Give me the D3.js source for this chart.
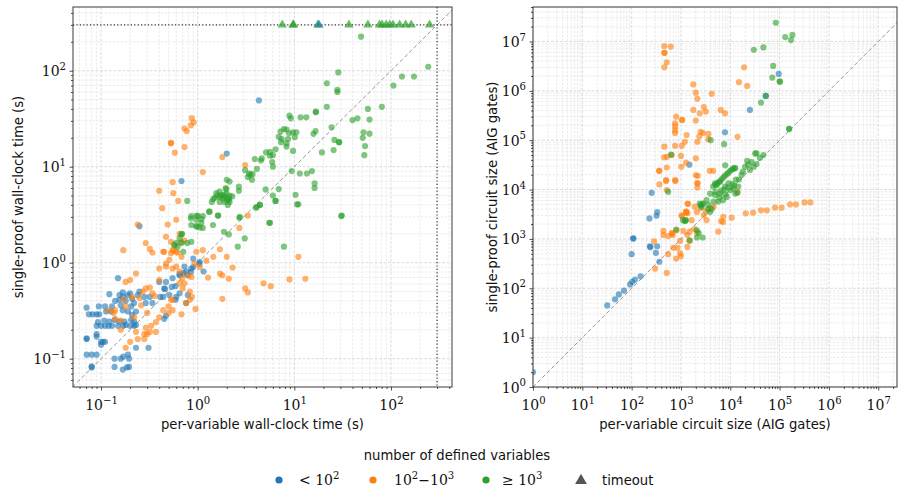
<!DOCTYPE html>
<html><head><meta charset="utf-8">
<script src="https://cdn.jsdelivr.net/npm/d3@7"></script>
<style>body{margin:0;background:#fff}</style>
</head><body>
<svg id="c" width="904" height="492"></svg>
<script>
// ---------- DATA ----------
const timeoutSeconds = 300;
const legendTitle = "number of defined variables";
const categories = ["< 10^2", "10^2-10^3", ">= 10^3"];
const colors = ["#1f77b4", "#ff7f0e", "#2ca02c"];

// Left panel: [per-variable time, single-proof time] in seconds
const leftBlue = [[0.25,2.4],[0.071,0.34],[0.071,0.16],[0.071,0.11],[0.08,0.11],[0.09,0.11],[0.08,0.081],[0.1,0.15],[0.105,0.15],[0.11,0.15],[0.09,0.18],[0.09,0.17],
[0.09,0.22],[0.1,0.22],[0.11,0.22],[0.12,0.22],[0.13,0.22],[0.15,0.22],[0.17,0.22],[0.18,0.225],[0.2,0.22],[0.22,0.22],[0.23,0.225],
[0.093,0.24],[0.108,0.25],[0.122,0.244],[0.138,0.253],[0.155,0.244],[0.175,0.244],[0.205,0.253],[0.22,0.244],
[0.075,0.29],[0.082,0.29],[0.09,0.29],[0.096,0.29],[0.21,0.286],
[0.095,0.35],[0.11,0.35],[0.113,0.31],[0.127,0.31],[0.168,0.32],[0.19,0.31],[0.23,0.31],[0.205,0.35],[0.22,0.38],[0.18,0.4],[0.155,0.41],[0.155,0.46],[0.168,0.49],[0.19,0.46],[0.122,0.47],[0.15,0.69],[0.28,0.44],[0.32,0.44],[0.29,0.38],[0.34,0.38],[0.41,0.44],[0.45,0.54],[0.51,0.46],[0.4,0.63],[0.54,0.56],[0.65,0.48],[0.6,0.44],[0.65,0.74],[0.71,0.78],[0.79,0.74],[0.85,0.8],[0.9,0.9],[1.04,0.97],[0.76,0.38],[0.79,0.46],[0.31,0.13],[0.168,0.077],[0.138,0.1],[0.16,0.1],[0.195,0.1],[0.138,0.082],[0.195,0.082],[0.185,0.081],[0.17,0.105],[0.19,0.11],[0.23,0.13],[0.1,0.14],[0.071,0.163],[0.08,0.083],
[0.44,0.44],[0.46,0.53],[0.55,0.69],[0.65,0.76],[0.76,0.81],[0.86,0.87],[0.9,1.1],[0.47,0.63],[0.59,0.57],[0.45,0.26],[0.47,0.28],[0.59,0.41],[0.73,0.91],[1.15,0.81],[1.05,1.02],
[0.13,0.35],[0.14,0.4],[0.16,0.36],[0.17,0.44],[0.21,0.42],[0.24,0.46],[0.25,0.5],[0.2,0.48],
[2.0,13.7],[0.68,7.1],[4.3,49]];
const leftOrange = [[0.87,32],[0.73,25],[0.85,27],[0.91,29],[0.77,23.5],[0.53,17.7],[0.53,17.5],[0.58,14],[0.73,16],[1.8,12.6],[3.1,10.4],[1.13,8.8],[0.55,6.9],[0.56,5.3],[0.4,5.6],
[0.43,3.7],[0.63,4.4],[0.24,2.5],[0.29,1.6],[0.32,1.39],[0.17,1.35],[0.47,1.86],[0.49,2.5],[0.6,2.8],[0.44,1.3],[0.45,1.3],[0.34,1.27],[0.55,1.35],[0.56,1.33],[0.53,1.25],[0.68,1.15],[0.97,1.3],[1.23,1.05],[1.7,1.38],[2.0,1.15],[2.7,2.3],[3.3,3.1],[11,1.15],[1.7,0.77],[1.8,0.74],[2.1,0.68],[2.3,0.89],[1.28,0.7],[8.9,0.67],[13,0.68],[4.8,0.61],[5.7,0.57],[3.1,0.54],[3.3,0.49],[1.8,0.42],[0.95,0.33],[0.68,0.29],[0.76,0.38],[0.83,0.5],[0.7,0.54],[0.55,0.41],[0.5,0.35],[0.44,0.32],[0.4,0.27],[0.37,0.24],[0.33,0.22],[0.29,0.21],[0.28,0.18],[0.3,0.18],[0.32,0.19],[0.37,0.19],[0.24,0.16],[0.18,0.13],[0.2,0.15],[0.28,0.16],[0.23,0.19],[0.23,0.77],[0.18,0.63],[0.2,0.66],[0.29,0.54],[0.32,0.55],[0.34,0.48],[0.27,0.5],[0.21,0.44],[0.25,0.43],[0.18,0.35],[0.14,0.32],[0.14,0.26],[0.16,0.25],[0.17,0.41],[0.4,0.66],[0.47,0.91],[0.55,0.87],[0.65,0.81],[0.69,0.69],[0.73,0.61],[0.79,0.74],[0.65,0.61],[0.6,0.91],[0.51,1.07],[0.4,0.87],[0.47,0.98],[0.53,1.65],[0.68,1.65],[0.65,2.0],[0.73,1.7],[1.13,1.35],[1.45,1.15],[0.93,0.98],[1.05,0.9],[0.86,0.71],[0.5,0.3],[0.53,0.41],[0.55,0.32],[0.87,0.44],[0.83,0.41],[0.62,1.27],[0.6,1.3],[0.58,1.5],[0.36,0.45],[0.3,0.3],[0.26,0.36],[0.22,0.27],[0.16,0.2],[0.12,0.32],[0.135,0.3]];
const leftGreen = [[49,226],[243,110],[130,87],[173,87],[106,70],[28.5,96],[21.7,74],[27.9,63],[27.9,60],[21.7,42],[80.5,42],[57.7,40],[60,31],[40,30.6],[45,31.9],[52,22.8],[60,22.1],[51,20],[54,16.4],[53,13.2],[16.7,36.9],[16.7,37.4],[24.3,25.7],[26,19],[28.9,18],[29.2,18],[25.5,14.9],[19.3,14.1],[16.6,23.5],[15.8,22],[13.5,8.5],[15.2,9.0],[11.4,8.5],[16.2,6.7],[16.2,6.0],[10.3,5.1],[10.7,4.06],[30.6,3.06],[8.9,34],[9.2,31.9],[11.6,32.7],[13.3,32.7],[7.2,23.2],[7.8,24.7],[8.3,24.4],[6.9,20.5],[7.4,19.4],[8.8,22.3],[9.7,22.8],[10.5,22.8],[10.1,20.3],[8.6,19.4],[8.3,17.5],[7.3,18],[9.7,14.6],[8.3,16.2],[5.6,14.3],[5.1,14.1],[6.4,15.2],[6.0,13.2],[5.6,13],[4.6,12.2],[3.9,12],[4.5,11.6],[5.9,11.2],[6.0,10],[4.1,9.5],[3.1,9.2],[3.4,8.5],[3.5,8.2],[3.3,7.8],[3.65,7.3],[3.7,8.4],[2.67,6.2],[2.67,5.6],[2.28,4.9],[2.14,7.0],[2.0,7.3],[1.95,6.0],
[1.56,5.3],[1.69,4.8],[1.83,5.1],[1.98,5.2],[2.14,5.0],[1.83,4.68],[1.69,4.3],[1.9,4.3],[2.1,4.68],[1.5,4.75],[1.45,4.6],[1.69,5.5],[1.98,5.8],[2.14,4.3],[2.05,4.0],[1.4,4.3],[1.75,5.0],[1.9,4.9],[1.6,5.0],[2.0,4.5],
[1.33,3.4],[1.62,3.1],[2.7,2.94],[4.0,3.74],[4.4,3.99],[5.05,5.8],[6.0,5.0],[6.4,4.4],[6.9,5.85],[9.4,9.0],[5.5,2.6],[1.1,2.85],[0.98,3.1],
[0.78,4.4],[0.86,3.06],[1.13,3.06],[1.0,3.06],[0.97,2.8],[1.09,2.6],[0.86,2.47],[0.97,2.4],[0.98,2.38],[1.05,2.33],[1.13,2.3],[1.31,3.4],[1.63,3.1],[1.44,2.47],[2.1,4.5],[2.73,3.0],[4.1,3.8],[4.4,4.0],[6.4,4.4],[5.6,2.6],[11,4.06],[31,3.1],[7.8,1.47],[3.07,1.79],[2.6,1.47],[2.1,1.97],[1.87,2.1],[0.69,2.0],[0.68,1.97],[0.65,1.79],[0.6,1.6],[0.57,1.53],[0.62,1.47],[0.68,1.6],[0.71,1.3],[0.86,1.65],[0.78,1.6],[0.85,2.9]];
// timeouts (single-proof run hit the 300 s limit): per-variable times
const leftTimeoutGreen = [7.5,9.7,9.8,17.5,36.7,57.7,76,81,89,97,105,123,142,162,251];
const leftTimeoutBlue = [18];

// Right panel: [per-variable size, single-proof size] in AIG gates
const rightBlue = [[1,2.0],[32,45],[46,60],[55,75],[70,90],[93,120],[103,135],[117,150],[152,175],[100,490],[108,1020],[108,1030],[235,710],[240,680],[230,2600],[330,3500],[320,2950],[330,710],[310,520],[365,345],[255,8600],[1480,32000],[7800,145000],[25000,410000],[52000,790000],[96000,2200000]];
const rightOrange = [[460,8.1e6],[620,7.9e6],[460,5.9e6],[465,5.9e6],[515,3.8e6],[460,3.0e6],[1780,1.35e6],[2000,9.2e5],[2150,6.9e5],[4200,8.7e5],[1.9e4,3.0e6],[1.5e4,1.5e6],[2.2e4,1.26e6],[1780,4.1e5],[2400,3.5e5],[2900,4.7e5],[3200,3.8e5],[6400,4.1e5],[7800,3.5e5],[2000,2.5e5],[800,3.0e5],[1050,2.6e5],[1060,2.55e5],[760,2.2e5],[760,1.9e5],[760,1.6e5],[760,1.4e5],[1300,1.27e5],[2500,1.48e5],[2800,1.4e5],[3600,1.34e5],[2360,1.2e5],[3600,1.05e5],[2150,9.3e4],[1200,9.3e4],[1040,7.7e4],[760,7.7e4],[460,7.4e4],[1.4e4,1.17e5],[455,4.5e4],[520,4.6e4],[1000,4.8e4],[2000,4.3e4],[1270,3.5e4],[1020,2.9e4],[515,2.8e4],[360,2.4e4],[365,2.4e4],[2000,1.95e4],[2200,1.9e4],[3800,2.4e4],[4500,2.4e4],[365,1.27e4],[500,1.55e4],[500,1.5e4],[2150,1.35e4],[2160,1.34e4],[2150,1.1e4],[1.4e4,9000],[515,9800],[650,5.0e4],[760,1.55e4],[770,1.5e4],
[2.06e4,3300],[2.9e4,3400],[4.2e4,3800],[5.5e4,3800],[8.1e4,4300],[1.1e5,4300],[1.63e5,5000],[2.15e5,5000],[3.2e5,5500],[4.2e5,5500],
[1.07e4,2700],[7200,2800],[7100,2200],[5700,1400],[6500,2300],
[1350,5200],[1270,3600],[1280,3500],[1270,3400],[1040,2900],[1650,2400],[2100,3500],[2900,3000],[3200,3600],[3900,4200],[4600,4500],[2500,4200],[3300,2400],[440,1450],[680,1200],[550,1140],[815,1500],[1120,1450],[1350,1200],[1500,1400],[1900,1580],[2100,1320],[960,915],[850,660],[1500,910],[1350,690],[960,510],[550,490],[800,400],[1000,450],[300,250],[285,890],[515,205],[700,660],[440,1200],[650,1300],[660,1310],[1400,5100],[1900,4500],[1350,3300],[1040,3000]];
const rightGreen = [[8.4e4,2.4e7],[1.3e5,1.23e7],[1.82e5,1.36e7],[1.7e5,1.07e7],[3.0e4,6.8e6],[4.7e4,7.6e6],[7.4e4,3.2e6],[7.1e4,1.86e6],[1.0e5,1.55e6],[1.02e5,1.53e6],[5.3e4,7.9e5],[4.2e4,5.8e5],[1.55e5,1.7e5],[1.57e5,1.68e5],[4000,1.0e5],[7500,8.3e4],[630,5.1e4],[3.4e4,5.4e4],[7900,3.1e4],[2.2e4,3.8e4],
[4500,1.15e4],[5000,1.25e4],[5500,1.35e4],[6000,1.45e4],[6600,1.6e4],[7200,1.75e4],[7800,1.9e4],[8500,2.05e4],[9200,2.2e4],[1.0e4,2.4e4],[1.08e4,2.55e4],[1.15e4,2.65e4],[1.22e4,2.75e4],[1.26e4,2.7e4],[5300,1.23e4],
[3.2e4,5.4e4],[4.7e4,5.0e4],[3.4e4,3.3e4],[2.3e4,3.2e4],[3.0e4,2.9e4],[2.5e4,2.5e4],[2.0e4,2.9e4],[1.7e4,2.0e4],[1.5e4,1.6e4],[1.8e4,2.3e4],[2.7e4,3.6e4],[4.0e4,4.4e4],
[3900,8300],[4900,7800],[6200,8300],[7800,1.15e4],[9200,1.34e4],[1.0e4,9800],[1.15e4,1.05e4],[1.26e4,8300],[8500,7100],[7100,6100],[5700,5700],[4600,5700],[3600,4900],[2800,5200],[2400,5200],[2600,4500],[2500,4800],[2700,5000],[4200,4000],[3900,3500],[3300,6100],[1.4e4,8600],[1.45e4,1.15e4],[4900,1.34e4],[6200,1.44e4],[550,9000],[1260,2400],[1200,2300],[1230,2350],[800,1550],[2100,1500],[2300,1320],[2100,1070],[1500,940],[2750,1070],[1100,2400],[9000,1.1e4],[1.1e4,1.3e4],[6500,9500],[7500,1.0e4],[5000,9000],[8000,8000],[1.2e4,1.2e4],[1.3e4,1.6e4],[6000,7000],[3500,4000]];

// ---------- DRAWING ----------
const svg = d3.select("#c");
const SERIF = "'DejaVu Serif','Liberation Serif',serif";
const SANS = "'DejaVu Sans','Noto Sans',sans-serif";
const LFS = 13.2; // label font size
const isMajor = v => Math.abs(Math.log10(v) - Math.round(Math.log10(v))) < 1e-6;

function powLabel(text, v, fs) {
  const e = Math.round(Math.log10(v));
  text.append("tspan").text("10");
  text.append("tspan").attr("dy", -fs*0.45).attr("font-size", fs*0.72)
    .text(e < 0 ? "\u2212" + (-e) : String(e));
}

function panel(cfg, id) {
  const x = d3.scaleLog().domain(cfg.xd).range([cfg.x0, cfg.x1]);
  const y = d3.scaleLog().domain(cfg.yd).range([cfg.y1, cfg.y0]);
  const g = svg.append("g");
  g.append("clipPath").attr("id", "clip" + id).append("rect")
    .attr("x", cfg.x0).attr("y", cfg.y0).attr("width", cfg.x1 - cfg.x0).attr("height", cfg.y1 - cfg.y0);
  const xt = x.ticks(), yt = y.ticks();
  const xMaj = xt.filter(isMajor), xMin = xt.filter(v => !isMajor(v));
  const yMaj = yt.filter(isMajor), yMin = yt.filter(v => !isMajor(v));
  const grid = g.append("g");
  grid.selectAll(".gxm").data(xMin).join("line").attr("x1", d => x(d)).attr("x2", d => x(d))
    .attr("y1", cfg.y0).attr("y2", cfg.y1).attr("stroke", "#e2e2e2").attr("stroke-width", 0.7).attr("stroke-dasharray", "2.5,1.5");
  grid.selectAll(".gym").data(yMin).join("line").attr("y1", d => y(d)).attr("y2", d => y(d))
    .attr("x1", cfg.x0).attr("x2", cfg.x1).attr("stroke", "#e2e2e2").attr("stroke-width", 0.7).attr("stroke-dasharray", "2.5,1.5");
  grid.selectAll(".gxM").data(xMaj).join("line").attr("x1", d => x(d)).attr("x2", d => x(d))
    .attr("y1", cfg.y0).attr("y2", cfg.y1).attr("stroke", "#d4d4d4").attr("stroke-width", 0.8).attr("stroke-dasharray", "3,1.5");
  grid.selectAll(".gyM").data(yMaj).join("line").attr("y1", d => y(d)).attr("y2", d => y(d))
    .attr("x1", cfg.x0).attr("x2", cfg.x1).attr("stroke", "#d4d4d4").attr("stroke-width", 0.8).attr("stroke-dasharray", "3,1.5");

  const plot = g.append("g").attr("clip-path", `url(#clip${id})`);
  // y = x reference
  const lo = Math.min(cfg.xd[0], cfg.yd[0]), hi = Math.max(cfg.xd[1], cfg.yd[1]);
  plot.append("line").attr("x1", x(lo)).attr("y1", y(lo)).attr("x2", x(hi)).attr("y2", y(hi))
    .attr("stroke", "#8a8a8a").attr("stroke-width", 0.9).attr("stroke-dasharray", "4,2.5");
  if (cfg.timeout) {
    plot.append("line").attr("x1", cfg.x0).attr("x2", cfg.x1).attr("y1", y(cfg.timeout)).attr("y2", y(cfg.timeout))
      .attr("stroke", "#333").attr("stroke-width", 1.2).attr("stroke-dasharray", "1.2,2.2");
    plot.append("line").attr("y1", cfg.y0).attr("y2", cfg.y1).attr("x1", x(cfg.timeout)).attr("x2", x(cfg.timeout))
      .attr("stroke", "#333").attr("stroke-width", 1.2).attr("stroke-dasharray", "1.2,2.2");
  }
  cfg.series.forEach((s, i) => {
    plot.append("g").selectAll("circle").data(s).join("circle")
      .attr("cx", d => x(d[0])).attr("cy", d => y(d[1])).attr("r", 3.1)
      .attr("fill", colors[i]).attr("fill-opacity", 0.6);
  });
  (cfg.timeouts || []).forEach(t => {
    plot.append("g").selectAll("path").data(t.xs).join("path")
      .attr("d", d3.symbol(d3.symbolTriangle, 38))
      .attr("transform", d => `translate(${x(d)},${y(cfg.timeout)})`)
      .attr("fill", colors[t.c]).attr("fill-opacity", 0.7);
  });
  // frame
  g.append("rect").attr("x", cfg.x0).attr("y", cfg.y0).attr("width", cfg.x1 - cfg.x0).attr("height", cfg.y1 - cfg.y0)
    .attr("fill", "none").attr("stroke", "#3a3a3a").attr("stroke-width", 1);
  // axes
  const style = a => { a.select(".domain").remove(); a.selectAll("line").attr("stroke", "#222").attr("stroke-width", 0.8); };
  g.append("g").attr("transform", `translate(0,${cfg.y1})`).call(d3.axisBottom(x).tickValues(xMin).tickSize(2).tickFormat("")).call(style);
  g.append("g").attr("transform", `translate(${cfg.x0},0)`).call(d3.axisLeft(y).tickValues(yMin).tickSize(2).tickFormat("")).call(style);
  const fs = 14;
  const ax = g.append("g").attr("transform", `translate(0,${cfg.y1})`).call(d3.axisBottom(x).tickValues(xMaj).tickSize(3.5).tickFormat("")).call(style);
  ax.selectAll(".tick").append("text").attr("y", 23).attr("fill", "#111").attr("text-anchor", "middle")
    .attr("font-family", SERIF).attr("font-size", fs).each(function(d){ powLabel(d3.select(this), d, fs); });
  const ay = g.append("g").attr("transform", `translate(${cfg.x0},0)`).call(d3.axisLeft(y).tickValues(yMaj).tickSize(3.5).tickFormat("")).call(style);
  ay.selectAll(".tick").append("text").attr("x", -7).attr("y", 5).attr("fill", "#111").attr("text-anchor", "end")
    .attr("font-family", SERIF).attr("font-size", fs).each(function(d){ powLabel(d3.select(this), d, fs); });
  // axis titles
  g.append("text").attr("x", (cfg.x0 + cfg.x1) / 2).attr("y", 429).attr("text-anchor", "middle")
    .attr("font-family", SANS).attr("font-size", LFS).attr("fill", "#111").text(cfg.xlabel);
  g.append("text").attr("transform", `translate(${cfg.ylx},${(cfg.y0 + cfg.y1) / 2}) rotate(-90)`).attr("text-anchor", "middle")
    .attr("font-family", SANS).attr("font-size", LFS).attr("fill", "#111").text(cfg.ylabel);
}

panel({x0: 73, x1: 452, y0: 7, y1: 387, xd: [0.0513, 428], yd: [0.0507, 461], timeout: timeoutSeconds,
  series: [leftBlue, leftOrange, leftGreen],
  timeouts: [{xs: leftTimeoutGreen, c: 2}, {xs: leftTimeoutBlue, c: 0}],
  xlabel: "per-variable wall-clock time (s)", ylabel: "single-proof wall-clock time (s)", ylx: 23}, 1);
panel({x0: 533, x1: 897, y0: 7, y1: 387, xd: [1, 2.4e7], yd: [1, 5.0e7],
  series: [rightBlue, rightOrange, rightGreen],
  xlabel: "per-variable circuit size (AIG gates)", ylabel: "single-proof circuit size (AIG gates)", ylx: 497}, 2);

// legend
const lg = svg.append("g");
lg.append("text").attr("x", 457).attr("y", 460).attr("text-anchor", "middle").attr("font-family", SANS)
  .attr("font-size", LFS).attr("fill", "#111").text(legendTitle);
const ly = 480;
[279, 373, 486].forEach((cx, i) => lg.append("circle").attr("cx", cx).attr("cy", ly).attr("r", 3.6).attr("fill", colors[i]));
lg.append("path").attr("d", d3.symbol(d3.symbolTriangle, 60)).attr("transform", `translate(581,${ly+0.5})`).attr("fill", "#555");
const lfs = 14;
function sup(t, s) { t.append("tspan").attr("dy", -lfs*0.45).attr("font-size", lfs*0.72).text(s); }
function unsup(t, s) { t.append("tspan").attr("dy", lfs*0.45).attr("font-size", lfs).text(s); }
let t1 = lg.append("text").attr("x", 299).attr("y", ly + 5).attr("font-family", SERIF).attr("font-size", lfs).attr("fill", "#111");
t1.append("tspan").text("< 10"); sup(t1, "2");
let t2 = lg.append("text").attr("x", 394).attr("y", ly + 5).attr("font-family", SERIF).attr("font-size", lfs).attr("fill", "#111");
t2.append("tspan").text("10"); sup(t2, "2"); unsup(t2, "\u221210"); sup(t2, "3");
let t3 = lg.append("text").attr("x", 502).attr("y", ly + 5).attr("font-family", SERIF).attr("font-size", lfs).attr("fill", "#111");
t3.append("tspan").text("\u2265 10"); sup(t3, "3");
lg.append("text").attr("x", 602).attr("y", ly + 5).attr("font-family", SANS).attr("font-size", LFS).attr("fill", "#111").text("timeout");
</script>
</body></html>
